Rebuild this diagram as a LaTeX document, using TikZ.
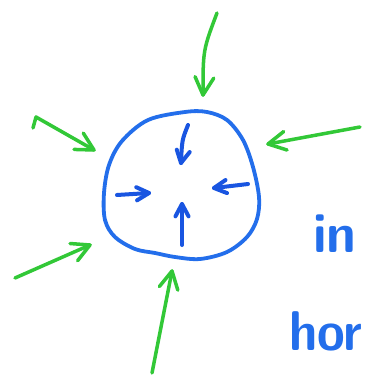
\documentclass[tikz,border=0pt]{standalone}
\usetikzlibrary{calc}
\definecolor{mblue}{RGB}{35,110,235}
\definecolor{dblue}{RGB}{25,85,225}
\definecolor{mgreen}{RGB}{50,200,55}
\tikzset{
  x=1pt, y=-1pt,
  outer/.style={draw=mgreen, line width=3.5pt, line cap=round, line join=round},
  inner/.style={draw=dblue, line width=4pt, line cap=round, line join=round},
  ring/.style={draw=mblue, line width=3.8pt},
  word/.style={text=mblue, anchor=base west, inner sep=0pt, font=\sffamily\bfseries\fontsize{56}{56}\selectfont}
}
\newcommand\mybarbs[4]{\draw[#1] ($(#2)!#4!28:(#3)$) -- (#2) -- ($(#2)!#4!-28:(#3)$);}
\begin{document}
\begin{tikzpicture}
\useasboundingbox (0,0) rectangle (367,375);
\clip (0,0) rectangle (367,375);
\fill[white] (0,0) rectangle (367,375);
% the blue ring
\draw[ring] plot[smooth cycle, tension=0.55] coordinates
  {(185,112) (207,112) (227,120) (243,140) (253,167) (259,197) (257,219) (247,237) (227,252) (200,259) (175,257) (155,253) (135,249) (115,237) (105,220) (104,193) (109,165) (122,141) (148,120)};
% inner arrows
\coordinate (d1) at (188,125); \coordinate (d2) at (181,163);
\coordinate (r1) at (117,195); \coordinate (r2) at (149,193);
\coordinate (l1) at (248,184); \coordinate (l2) at (214,188);
\coordinate (u1) at (182,245); \coordinate (u2) at (182,204);
\draw[inner] (d1) .. controls (182,140) .. (d2);
\mybarbs{inner}{d2}{d1}{14pt}
\draw[inner] (r1) -- (r2);
\mybarbs{inner}{r2}{r1}{14pt}
\draw[inner] (l1) -- (l2);
\mybarbs{inner}{l2}{l1}{14pt}
\draw[inner] (u1) -- (u2);
\mybarbs{inner}{u2}{u1}{14pt}
% outer arrows
\coordinate (t1) at (217,13); \coordinate (t2) at (203,95);
\coordinate (a0) at (33,128); \coordinate (a1) at (36,117); \coordinate (a2) at (94,150);
\coordinate (g1) at (360,127); \coordinate (g2) at (268,144);
\coordinate (b1) at (15,278); \coordinate (b2) at (90,245);
\coordinate (s1) at (152,373); \coordinate (s2) at (172,271);
\draw[outer] (t1) .. controls (203,50) .. (t2);
\mybarbs{outer}{t2}{205,70}{20pt}
\draw[outer] (a0) -- (a1) -- (a2);
\mybarbs{outer}{a2}{a1}{20pt}
\draw[outer] (g1) -- (g2);
\mybarbs{outer}{g2}{g1}{20pt}
\draw[outer] (b1) -- (b2);
\mybarbs{outer}{b2}{b1}{20pt}
\draw[outer] (s1) -- (s2);
\mybarbs{outer}{s2}{s1}{20pt}
% text
\node[word, xscale=0.95] (w1) at (313,252) {in};
\node[word, xscale=0.9] (w2) at (289,350) {hor};
\end{tikzpicture}
\end{document}
